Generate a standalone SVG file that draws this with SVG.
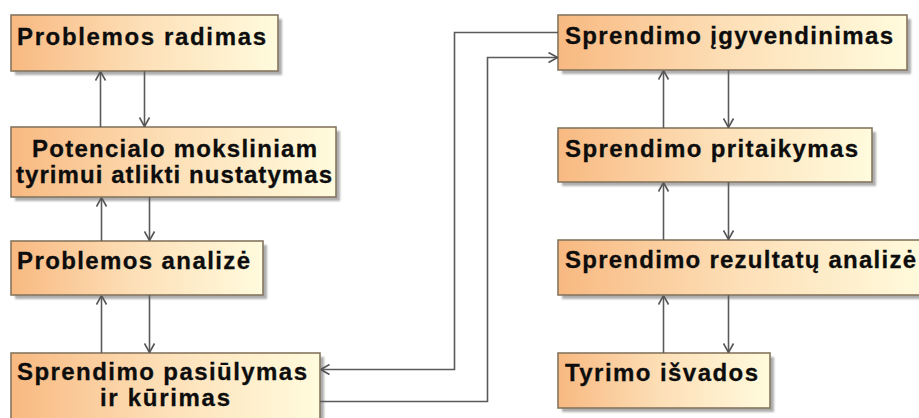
<svg xmlns="http://www.w3.org/2000/svg" width="919" height="418" viewBox="0 0 919 418">
  <defs>
    <linearGradient id="fillGrad" x1="0" y1="0" x2="1" y2="0">
      <stop offset="0" stop-color="#f8b981"/>
      <stop offset="0.5" stop-color="#fde0b8"/>
      <stop offset="1" stop-color="#fffbdd"/>
    </linearGradient>
    <filter id="soft" x="-5%" y="-5%" width="110%" height="120%">
      <feGaussianBlur stdDeviation="1.2"/>
    </filter>
    <marker id="arrow" viewBox="0 0 10 12" refX="10" refY="6" markerWidth="10" markerHeight="12" markerUnits="userSpaceOnUse" orient="auto">
      <path d="M1,1 L10,6 L1,11" fill="none" stroke="#555555" stroke-width="1.6"/>
    </marker>
  </defs>
  <style>
    .shadow { fill: #999999; opacity: 0.8; filter: url(#soft); }
    .box { fill: url(#fillGrad); stroke: #86765f; stroke-width: 1.6; }
    .label { font-family: "Liberation Sans", Arial, sans-serif; font-weight: bold; font-size: 24px; fill: #0d0d0d; stroke: #0d0d0d; stroke-width: 0.3; }
    .edge { fill: none; stroke: #5a5a5a; stroke-width: 1.6; marker-end: url(#arrow); }
  </style>

  <rect width="919" height="418" fill="#ffffff"/>

  <!-- left column -->
  <g id="problemos-radimas">
    <rect class="shadow" x="15" y="19" width="267" height="56"/>
    <rect class="box" x="11" y="15" width="267" height="56"/>
    <text class="label" x="17" y="45" textLength="249" lengthAdjust="spacing">Problemos radimas</text>
  </g>

  <g id="potencialo-nustatymas">
    <rect class="shadow" x="15" y="131" width="325" height="70"/>
    <rect class="box" x="11" y="127" width="325" height="70"/>
    <text class="label" x="32" y="157" textLength="285" lengthAdjust="spacing">Potencialo moksliniam</text>
    <text class="label" x="16" y="183" textLength="316" lengthAdjust="spacing">tyrimui atlikti nustatymas</text>
  </g>

  <g id="problemos-analize">
    <rect class="shadow" x="15" y="245" width="252" height="54"/>
    <rect class="box" x="11" y="241" width="252" height="54"/>
    <text class="label" x="17" y="269" textLength="233" lengthAdjust="spacing">Problemos analizė</text>
  </g>

  <g id="sprendimo-pasiulymas">
    <rect class="shadow" x="15" y="357" width="309" height="70"/>
    <rect class="box" x="11" y="353" width="309" height="70"/>
    <text class="label" x="17" y="380" textLength="290" lengthAdjust="spacing">Sprendimo pasiūlymas</text>
    <text class="label" x="100" y="406" textLength="130" lengthAdjust="spacing">ir kūrimas</text>
  </g>

  <!-- right column -->
  <g id="sprendimo-igyvendinimas">
    <rect class="shadow" x="562" y="19" width="349" height="55"/>
    <rect class="box" x="558" y="15" width="349" height="55"/>
    <text class="label" x="565" y="44" textLength="328" lengthAdjust="spacing">Sprendimo įgyvendinimas</text>
  </g>

  <g id="sprendimo-pritaikymas">
    <rect class="shadow" x="562" y="132" width="314" height="54"/>
    <rect class="box" x="558" y="128" width="314" height="54"/>
    <text class="label" x="565" y="157" textLength="293" lengthAdjust="spacing">Sprendimo pritaikymas</text>
  </g>

  <g id="sprendimo-rezultatu-analize">
    <rect class="shadow" x="562" y="244" width="370" height="55"/>
    <rect class="box" x="558" y="240" width="370" height="55"/>
    <text class="label" x="565" y="268" textLength="351" lengthAdjust="spacing">Sprendimo rezultatų analizė</text>
  </g>

  <g id="tyrimo-isvados">
    <rect class="shadow" x="562" y="357" width="212" height="55"/>
    <rect class="box" x="558" y="353" width="212" height="55"/>
    <text class="label" x="565" y="381" textLength="193" lengthAdjust="spacing">Tyrimo išvados</text>
  </g>

  <!-- connectors -->
  <g id="connectors">
    <!-- left column, up/down pairs -->
    <path class="edge" d="M100.5,127 V71.5"/>
    <path class="edge" d="M144.5,71 V126.5"/>
    <path class="edge" d="M101.5,241 V197.5"/>
    <path class="edge" d="M149.5,197 V240.5"/>
    <path class="edge" d="M101.5,353 V295.5"/>
    <path class="edge" d="M149.5,295 V352.5"/>

    <!-- right column, up/down pairs -->
    <path class="edge" d="M663.5,128 V70.5"/>
    <path class="edge" d="M728.5,70 V127.5"/>
    <path class="edge" d="M663.5,240 V182.5"/>
    <path class="edge" d="M728.5,182 V239.5"/>
    <path class="edge" d="M663.5,353 V295.5"/>
    <path class="edge" d="M728.5,295 V352.5"/>

    <!-- between columns -->
    <path class="edge" d="M558,32.5 H454.5 V369.5 H320.5"/>
    <path class="edge" d="M320,401.5 H487.5 V57.5 H557.5"/>
  </g>
</svg>
